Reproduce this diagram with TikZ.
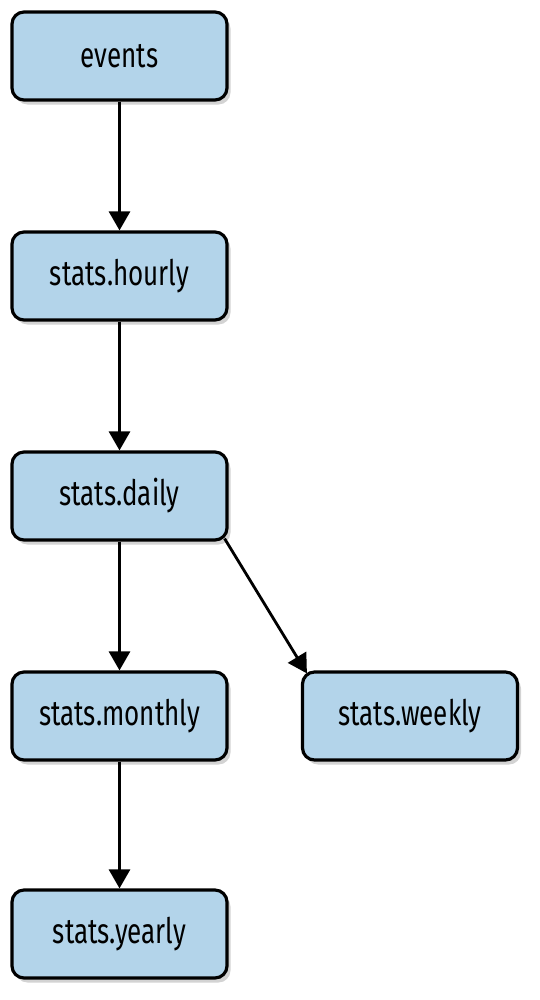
\documentclass[tikz,border=0pt]{standalone}
\usepackage{fontspec}
\setmainfont[FakeStretch=0.74]{Fira Sans}
\usetikzlibrary{arrows.meta,shadows}
\definecolor{boxblue}{HTML}{B3D4EA}
\tikzset{
  table/.style={draw=black, line width=1.8pt, fill=boxblue, rounded corners=0.24cm,
    minimum width=4.3cm, minimum height=1.76cm, inner sep=0pt,
    font=\fontsize{20}{24}\selectfont,
    drop shadow={shadow xshift=0.07cm, shadow yshift=-0.09cm, opacity=0.35}},
  flow/.style={line width=1.6pt, -{Triangle[length=0.38cm, width=0.42cm]}}
}
\begin{document}
\begin{tikzpicture}
\useasboundingbox (0,0) rectangle (10.8,-20);
\node[table] (events) at (2.39,-1.12) {events};
\node[table] (hourly) at (2.39,-5.52) {stats.hourly};
\node[table] (daily) at (2.39,-9.92) {stats.daily};
\node[table] (monthly) at (2.39,-14.32) {stats.monthly};
\node[table] (weekly) at (8.2,-14.32) {stats.weekly};
\node[table] (yearly) at (2.39,-18.68) {stats.yearly};
\draw[flow] (events) -- (hourly);
\draw[flow] (hourly) -- (daily);
\draw[flow] (daily) -- (monthly);
\draw[flow] ([shift={(-0.08,0.06)}]daily.south east) -- ([shift={(0.12,-0.06)}]weekly.north west);
\draw[flow] (monthly) -- (yearly);
\end{tikzpicture}
\end{document}
